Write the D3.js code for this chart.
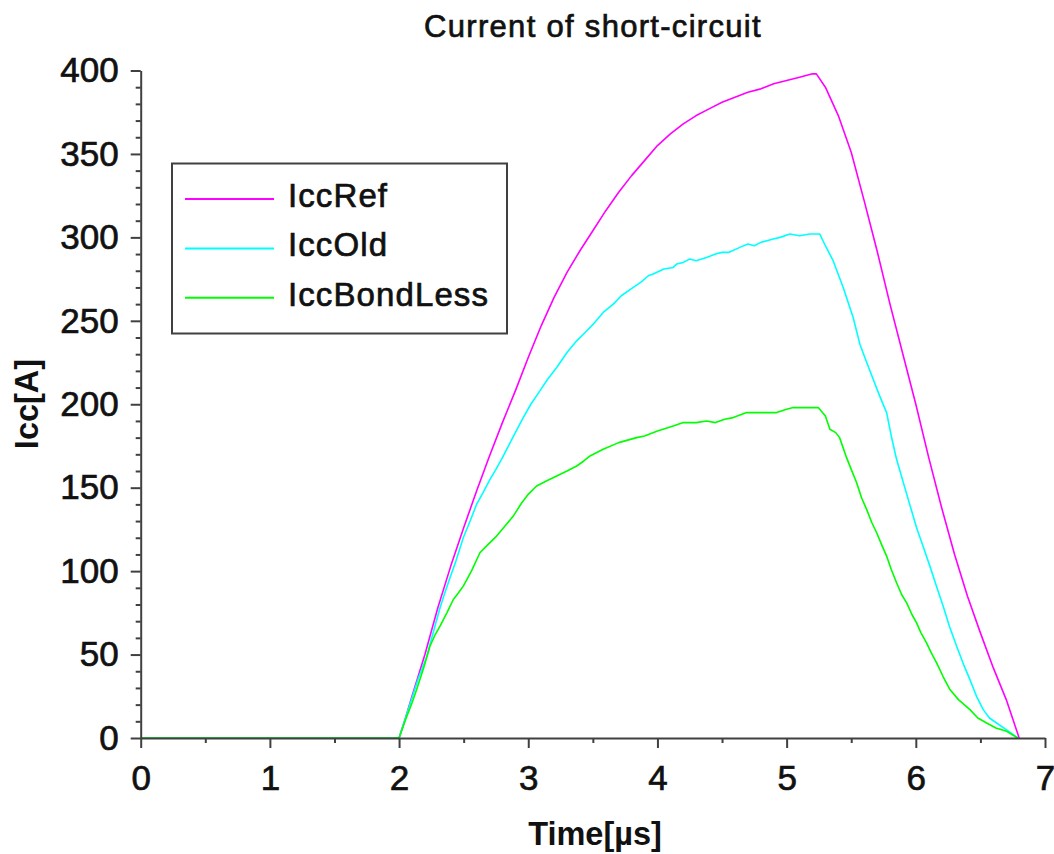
<!DOCTYPE html>
<html>
<head>
<meta charset="utf-8">
<script src="https://cdn.jsdelivr.net/npm/d3@7"></script>
<style>
  html, body { margin: 0; padding: 0; background: #fff; }
  svg { display: block; }
  text { font-family: "Liberation Sans", Arial, sans-serif; fill: #111; }
  .heavy { stroke: #111; stroke-width: 0.7px; }
</style>
</head>
<body>
<svg id="chart" width="1054" height="854"></svg>
<script>
// ---- data ----
const chartTitle = "Current of short-circuit";
const xLabel = "Time[µs]";
const yLabel = "Icc[A]";
const seriesNames = ["IccRef", "IccOld", "IccBondLess"];
const seriesColors = ["#ff00ff", "#00ffff", "#00ff00"];

const xMajorTicks = [0, 1, 2, 3, 4, 5, 6, 7];
const xMinorTicks = [0.5, 1.5, 2.5, 3.5, 4.5, 5.5, 6.5];
const yMajorTicks = [0, 50, 100, 150, 200, 250, 300, 350, 400];

const refTime = [0, 2.0, 2.05, 2.1, 2.2, 2.3, 2.4, 2.5, 2.6, 2.7, 2.8, 2.9, 3.0, 3.1, 3.2, 3.3, 3.4, 3.5, 3.6, 3.7, 3.8, 3.9, 4.0, 4.1, 4.2, 4.3, 4.4, 4.5, 4.6, 4.7, 4.8, 4.9, 5.0, 5.1, 5.2, 5.23, 5.3, 5.4, 5.5, 5.6, 5.7, 5.8, 5.9, 6.0, 6.1, 6.2, 6.3, 6.4, 6.5, 6.6, 6.7, 6.8];
const refValues = [0, 0, 12, 25, 50, 78, 103, 126, 148, 169, 189, 208, 228, 247, 264, 279, 292, 304, 316, 327, 337, 346, 355, 362, 368, 373, 377, 381, 384, 387, 389, 392, 394, 396, 398, 398, 390, 373, 351, 322, 292, 260, 230, 200, 168, 138, 110, 85, 63, 42, 23, 0];

const oldTime = [0, 2.0, 2.05, 2.1, 2.15, 2.214, 2.26, 2.317, 2.35, 2.394, 2.44, 2.497, 2.55, 2.6, 2.65, 2.704, 2.75, 2.8, 2.833, 2.9, 2.961, 3.02, 3.09, 3.15, 3.22, 3.3, 3.375, 3.44, 3.503, 3.58, 3.658, 3.72, 3.813, 3.87, 3.93, 3.967, 4.05, 4.122, 4.149, 4.2, 4.25, 4.3, 4.38, 4.45, 4.5, 4.55, 4.638, 4.7, 4.75, 4.8, 4.896, 4.95, 5.025, 5.1, 5.18, 5.257, 5.3, 5.36, 5.438, 5.515, 5.567, 5.62, 5.67, 5.72, 5.774, 5.81, 5.851, 5.93, 6.006, 6.06, 6.109, 6.16, 6.212, 6.26, 6.316, 6.37, 6.419, 6.47, 6.522, 6.57, 6.625, 6.7, 6.79];
const oldValues = [0, 0, 12, 24, 36, 48.7, 62, 78, 86, 96, 106, 120, 130, 140, 147, 155, 161, 168, 173, 183, 192, 200, 208, 215, 222, 231, 238, 243, 248, 255, 260, 265, 270, 273, 277, 278, 281, 282, 284, 285, 287, 286, 288, 290, 291, 291, 294, 296, 295, 297, 299, 300, 302, 301, 302, 302, 295, 286, 270, 252, 236, 225, 215, 205, 195, 181, 167, 146, 126, 114, 103, 91, 79, 67, 55, 44, 35, 25, 17, 12, 9, 5, 0];

const bondTime = [0, 2.0, 2.05, 2.1, 2.136, 2.19, 2.239, 2.28, 2.317, 2.37, 2.42, 2.46, 2.497, 2.56, 2.626, 2.69, 2.755, 2.82, 2.884, 2.95, 3.0, 3.065, 3.14, 3.22, 3.3, 3.375, 3.43, 3.478, 3.58, 3.7, 3.839, 3.9, 4.0, 4.122, 4.2, 4.3, 4.38, 4.45, 4.52, 4.587, 4.69, 4.8, 4.922, 5.0, 5.051, 5.15, 5.245, 5.3, 5.335, 5.38, 5.41, 5.464, 5.5, 5.542, 5.58, 5.619, 5.66, 5.697, 5.74, 5.774, 5.81, 5.851, 5.89, 5.929, 5.97, 6.006, 6.04, 6.083, 6.12, 6.161, 6.21, 6.264, 6.33, 6.419, 6.48, 6.548, 6.62, 6.703, 6.79];
const bondValues = [0, 0, 11, 21, 29, 42, 55, 62, 67, 75, 83, 87, 91, 100, 111, 116, 121, 127, 133, 141, 146, 151, 154, 157, 160, 163, 166, 169, 173, 177, 180, 181, 184, 187, 189, 189, 190, 189, 191, 192, 195, 195, 195, 197, 198, 198, 198, 193, 185, 183, 180, 168, 161, 153, 144, 137, 129, 123, 115, 109, 101, 93, 86, 81, 74, 69, 63, 57, 51, 45, 37, 29, 23, 17, 12, 9, 6, 4, 0];

// ---- layout ----
const svg = d3.select("#chart");
const x = d3.scaleLinear().domain([0, 7]).range([140.7, 1045]);
const y = d3.scaleLinear().domain([0, 400]).range([738, 70.5]);
const axisColor = "#404040";

// Series lines
const series = [
  { name: seriesNames[0], color: seriesColors[0], t: refTime, v: refValues },
  { name: seriesNames[1], color: seriesColors[1], t: oldTime, v: oldValues },
  { name: seriesNames[2], color: seriesColors[2], t: bondTime, v: bondValues }
];
const line = d3.line().x(d => x(d[0])).y(d => y(d[1]));
series.forEach(s => {
  const pts = s.t.map((t, i) => [t, s.v[i]]);
  svg.append("path")
    .attr("d", line(pts))
    .attr("fill", "none")
    .attr("stroke", s.color)
    .attr("stroke-width", 1.6)
    .attr("stroke-linejoin", "round");
});

// X axis
const gx = svg.append("g").attr("transform", `translate(0,${y(0)})`);
gx.call(d3.axisBottom(x).tickValues(xMinorTicks).tickSize(5).tickFormat(""))
  .call(g => g.select(".domain").remove());
const gx2 = svg.append("g").attr("transform", `translate(0,${y(0)})`);
gx2.call(d3.axisBottom(x).tickValues(xMajorTicks).tickSize(10).tickSizeOuter(0).tickFormat(d3.format("d")));
gx2.selectAll("text").attr("y", 52).attr("dy", 0).style("font-size", "35px").attr("class", "heavy");

// Y axis
const yMinor = d3.range(0, 401, 10).filter(v => v % 50 !== 0);
const gy = svg.append("g").attr("transform", `translate(${x(0)},0)`);
gy.call(d3.axisLeft(y).tickValues(yMinor).tickSize(5).tickFormat(""))
  .call(g => g.select(".domain").remove());
const gy2 = svg.append("g").attr("transform", `translate(${x(0)},0)`);
gy2.call(d3.axisLeft(y).tickValues(yMajorTicks).tickSize(10).tickSizeOuter(0).tickFormat(d3.format("d")));
gy2.selectAll("text").attr("x", -22).attr("dy", "0.32em").style("font-size", "35px").attr("class", "heavy");

[gx, gx2, gy, gy2].forEach(g => {
  g.selectAll("line").attr("stroke", axisColor).attr("stroke-width", 2);
  g.select(".domain").attr("stroke", axisColor).attr("stroke-width", 2);
  g.selectAll("text").attr("fill", "#111").attr("font-family", "Liberation Sans, Arial, sans-serif");
});

// Title
svg.append("text")
  .attr("x", 593).attr("y", 37)
  .attr("text-anchor", "middle")
  .attr("class", "heavy")
  .style("font-size", "31px")
  .style("letter-spacing", "1.3px")
  .text(chartTitle);

// Axis labels
svg.append("text")
  .attr("x", 595).attr("y", 845)
  .attr("text-anchor", "middle")
  .style("font-size", "32.5px")
  .style("font-weight", "bold")
  .text(xLabel);
svg.append("text")
  .attr("transform", "translate(38,404) rotate(-90)")
  .attr("text-anchor", "middle")
  .style("font-size", "32.5px")
  .style("font-weight", "bold")
  .text(yLabel);

// Legend
const legend = svg.append("g");
legend.append("rect")
  .attr("x", 172).attr("y", 163.5).attr("width", 335).attr("height", 170)
  .attr("fill", "#fff").attr("stroke", axisColor).attr("stroke-width", 2);
series.forEach((s, i) => {
  const ly = 199 + i * 49.4;
  legend.append("line")
    .attr("x1", 185).attr("x2", 274).attr("y1", ly).attr("y2", ly)
    .attr("stroke", s.color).attr("stroke-width", 2);
  legend.append("text")
    .attr("x", 288).attr("y", ly + 8)
    .attr("class", "heavy")
    .style("font-size", "33px")
    .style("letter-spacing", "1.1px")
    .text(s.name);
});
</script>
</body>
</html>
